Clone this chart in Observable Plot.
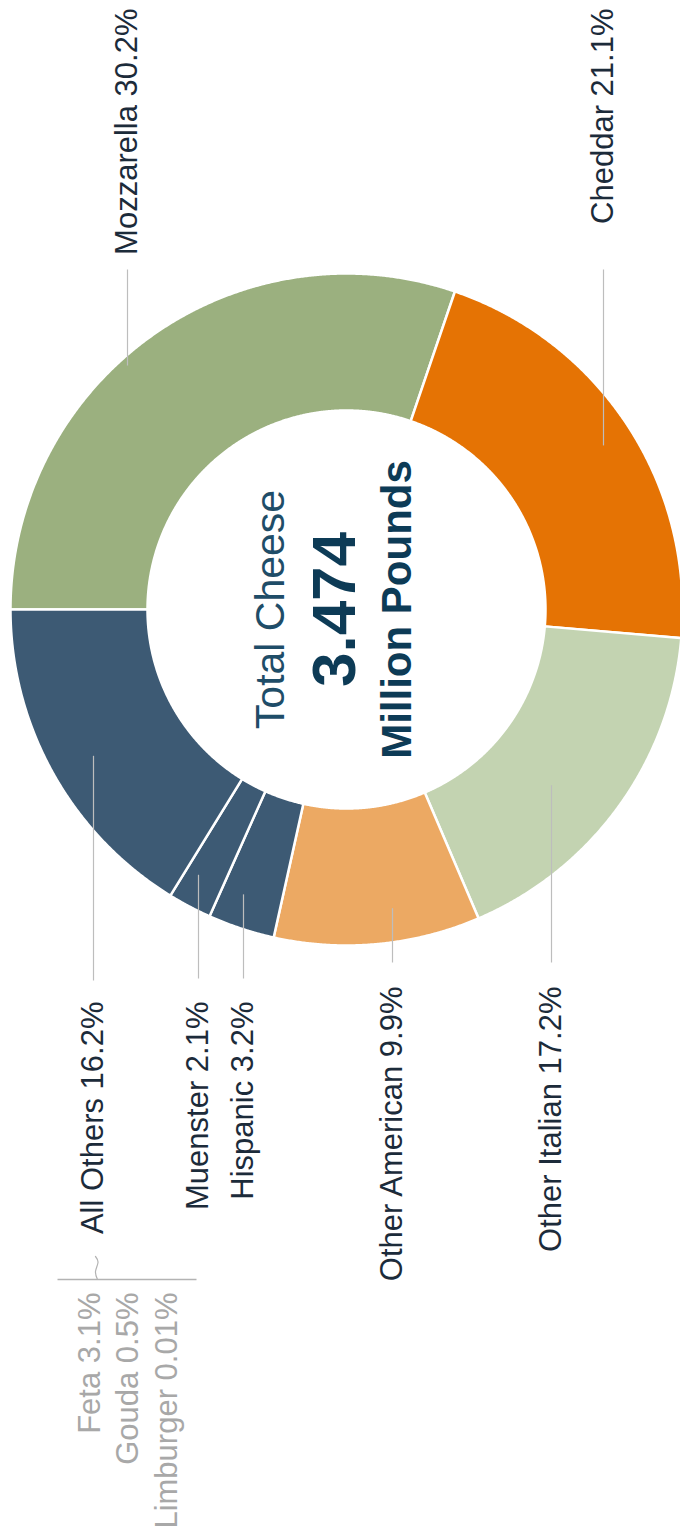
<!DOCTYPE html>
<html>
<head>
<meta charset="utf-8">
<script src="https://cdn.jsdelivr.net/npm/d3@7"></script>
<script src="https://cdn.jsdelivr.net/npm/@observablehq/plot@0.6"></script>
<style>
  html, body { margin: 0; padding: 0; background: #fff; }
  #chart svg { display: block; }
</style>
</head>
<body>
<div id="chart"></div>
<script>
// ---- data ----
const cheeses = ["Mozzarella", "Cheddar", "Other Italian", "Other American", "Hispanic", "Muenster", "All Others"];
const shares = [30.2, 21.1, 17.2, 9.9, 3.2, 2.1, 16.2];
const sliceColors = ["#9bb07f", "#e57304", "#c3d3b1", "#eca963", "#3d5a74", "#3d5a74", "#3d5a74"];
const otherNames = ["Feta", "Gouda", "Limburger"];
const otherShares = [3.1, 0.5, 0.01];
const centerTitle = "Total Cheese";
const centerValue = "3.474";
const centerUnit = "Million Pounds";

// ---- layout (pixels) ----
const W = 680, H = 1532;
const cx = 346, cy = 609, R = 336, r0 = 199, leaderR = 300;
const labelX = [127, 603, 551, 392, 243, 198, 93];
const labelEndY = [8, 8, 986, 986, 1001, 1001, 1001];
const lineOuterY = [269, 269, 962, 962, 978, 978, 980];
const otherLabelX = [90, 128, 167];
const otherEndY = 1292;

const rows = cheeses.map((name, i) => ({name, share: shares[i], i}));
const arcs = d3.pie().sort(null).value(d => d.share).startAngle(0).endAngle(2 * Math.PI)(rows);

// rotated chart: pie angle a (clockwise from top) -> image direction (-cos a, -sin a)
const px = (rad, a) => cx - rad * Math.cos(a);
const py = (rad, a) => cy - rad * Math.sin(a);

const poly = [];
for (const arc of arcs) {
  const a0 = arc.startAngle, a1 = arc.endAngle;
  const n = Math.max(2, Math.ceil((a1 - a0) / 0.004));
  for (let k = 0; k <= n; k++) {
    const a = a0 + (a1 - a0) * k / n;
    poly.push({name: arc.data.name, x: px(R, a), y: py(R, a)});
  }
  for (let k = n; k >= 0; k--) {
    const a = a0 + (a1 - a0) * k / n;
    poly.push({name: arc.data.name, x: px(r0, a), y: py(r0, a)});
  }
}

const leaders = arcs.map((arc, i) => {
  const mid = (arc.startAngle + arc.endAngle) / 2;
  return {x: labelX[i], y1: py(leaderR, mid), y2: lineOuterY[i]};
});

const labels = rows.map((d, i) => ({text: `${d.name} ${d.share}%`, x: labelX[i], y: labelEndY[i]}));
const otherLabels = otherNames.map((n, i) => ({text: `${n} ${otherShares[i]}%`, x: otherLabelX[i], y: otherEndY}));

const bracket = [{x1: 57, x2: 196, y: 1279}];
const tick = [{x: 95, y: 1256}, {x: 97.5, y: 1262}, {x: 95, y: 1271}, {x: 97, y: 1279}];

const font = "Liberation Sans, Arial, Helvetica, sans-serif";

const chart = Plot.plot({
  width: W,
  height: H,
  margin: 0,
  x: {domain: [0, W], range: [0, W], axis: null},
  y: {domain: [0, H], range: [0, H], axis: null},
  color: {domain: cheeses, range: sliceColors},
  style: {fontFamily: font, background: "#fff"},
  marks: [
    Plot.line(poly, {x: "x", y: "y", z: "name", fill: "name", stroke: "#fff", strokeWidth: 2.5, curve: "linear-closed"}),
    Plot.link(leaders, {x1: "x", x2: "x", y1: "y1", y2: "y2", stroke: "#bdbdbd", strokeWidth: 1.2}),
    Plot.text(labels, {x: "x", y: "y", text: "text", rotate: -90, textAnchor: "end", fontSize: 31, fill: "#1c2b3a"}),
    Plot.link(bracket, {x1: "x1", x2: "x2", y1: "y", y2: "y", stroke: "#b3b3b3", strokeWidth: 1.5}),
    Plot.line(tick, {x: "x", y: "y", stroke: "#b3b3b3", strokeWidth: 1.2, curve: "natural"}),
    Plot.text(otherLabels, {x: "x", y: "y", text: "text", rotate: -90, textAnchor: "end", fontSize: 31, fill: "#a8a8a8"}),
    Plot.text([centerTitle], {x: () => 270, y: () => cy, text: d => d, rotate: -90, textAnchor: "middle", fontSize: 41, fill: "#1f4d68"}),
    Plot.text([centerValue], {x: () => 335, y: () => cy, text: d => d, rotate: -90, textAnchor: "middle", fontSize: 62, fontWeight: "bold", fill: "#0d3b56"}),
    Plot.text([centerUnit], {x: () => 397, y: () => cy, text: d => d, rotate: -90, textAnchor: "middle", fontSize: 42, fontWeight: "bold", fill: "#0d3b56"})
  ]
});
document.getElementById("chart").appendChild(chart);
</script>
</body>
</html>
